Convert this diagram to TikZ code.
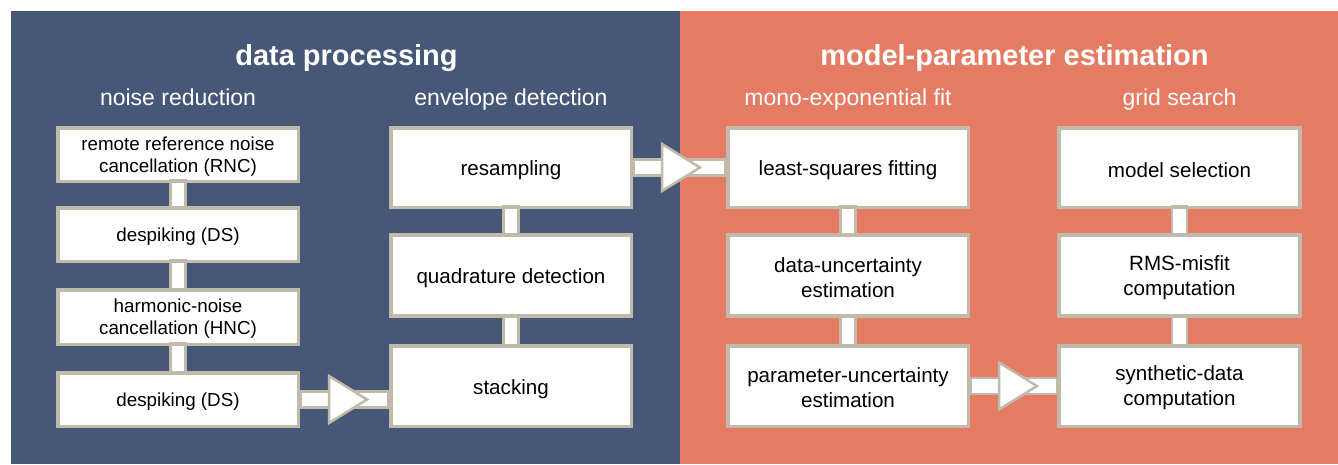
\documentclass[tikz,border=0pt]{standalone}
\usepackage{fontspec}
\setmainfont{Liberation Sans}
\usetikzlibrary{calc}
\definecolor{bluebg}{RGB}{71,87,120}
\definecolor{orangebg}{RGB}{228,123,98}
\definecolor{edgegray}{RGB}{192,186,170}
\tikzset{
  box/.style={draw=edgegray, fill=white, line width=2.5pt, minimum width=239.5pt, inner sep=0pt},
  shortbox/.style={box, minimum height=52.5pt},
  tallbox/.style={box, minimum height=80pt},
  smalltext/.style={align=center, inner sep=0pt, font=\fontsize{18.8}{22}\selectfont},
  bigtext/.style={align=center, inner sep=0pt, font=\fontsize{20.6}{25}\selectfont},
  conn/.style={draw=edgegray, fill=white, line width=2.5pt, line join=miter},
  title/.style={text=white, anchor=base, font=\fontsize{29}{33}\selectfont\bfseries},
  subtitle/.style={text=white, anchor=base, font=\fontsize{23}{26}\selectfont}
}
\begin{document}
\begin{tikzpicture}[x=1pt,y=-1pt]
\useasboundingbox (0,0) rectangle (1338,464);
\fill[bluebg] (11,11) rectangle (680,464);
\fill[orangebg] (680,11) rectangle (1338,464);

\node[title] (t1) at (346.5,65) {data processing};
\node[title] (t2) at (1014.5,65) {model-parameter estimation};
\node[subtitle] (s1) at (178,105) {noise reduction};
\node[subtitle] (s2) at (511,105) {envelope detection};
\node[subtitle] (s3) at (848,105) {mono-exponential fit};
\node[subtitle] (s4) at (1179.5,105) {grid search};

% column 1
\node[shortbox] (rnc) at (178,154.5) {};
\node[shortbox] (ds1) at (178,234.5) {};
\node[shortbox, minimum height=53.5pt] (hnc) at (178,317) {};
\node[shortbox] (ds2) at (178,399.5) {};
% column 2
\node[tallbox, minimum height=78.5pt] (res) at (511,167.5) {};
\node[tallbox] (quad) at (511,275.5) {};
\node[tallbox, minimum height=79.5pt] (stack) at (511,386) {};
% column 3
\node[tallbox, minimum height=78.5pt] (lsq) at (848,167.5) {};
\node[tallbox] (dunc) at (848,275.5) {};
\node[tallbox, minimum height=79.5pt] (punc) at (848,386) {};
% column 4
\node[tallbox, minimum height=78.5pt] (msel) at (1179.5,167.5) {};
\node[tallbox] (rms) at (1179.5,275.5) {};
\node[tallbox, minimum height=79.5pt] (syn) at (1179.5,386) {};

% vertical connectors
\foreach \a/\b in {rnc/ds1, ds1/hnc, hnc/ds2, res/quad, quad/stack, lsq/dunc, dunc/punc, msel/rms, rms/syn}{
  \draw[conn] ($(\a.south)+(-7.5,-1.5)$) rectangle ($(\b.north)+(7.5,1.5)$);
}
% horizontal bars
\draw[conn] ($(ds2.east)+(1.5,-8)$) rectangle ($(stack.west |- ds2.east)+(-1.5,8)$);
\draw[conn] ($(res.east)+(1.5,-8)$) rectangle ($(lsq.west)+(-1.5,8)$);
\draw[conn] ($(punc.east)+(1.5,-8)$) rectangle ($(syn.west)+(-1.5,8)$);

% redraw box borders over connector ends
\foreach \n in {rnc,ds1,hnc,ds2,res,quad,stack,lsq,dunc,punc,msel,rms,syn}{
  \draw[draw=edgegray, line width=2.5pt] (\n.north west) rectangle (\n.south east);
}

% arrow heads
\foreach \a in {ds2,res,punc}{
  \draw[conn] ($(\a.east)+(30,-23.5)$) -- ($(\a.east)+(68,0)$) -- ($(\a.east)+(30,23.5)$) -- cycle;
}

% box texts
\node[smalltext] (rncT) at ($(rnc.center)+(0,2)$) {remote reference noise\\cancellation (RNC)};
\node[smalltext] (ds1T) at ($(ds1.center)+(0,2)$) {despiking (DS)};
\node[smalltext] (hncT) at ($(hnc.center)+(0,2)$) {harmonic-noise\\cancellation (HNC)};
\node[smalltext] (ds2T) at ($(ds2.center)+(0,2)$) {despiking (DS)};
\node[bigtext] (resT) at ($(res.center)+(0,3)$) {resampling};
\node[bigtext] (quadT) at ($(quad.center)+(0,3)$) {quadrature detection};
\node[bigtext] (stackT) at ($(stack.center)+(0,3)$) {stacking};
\node[bigtext] (lsqT) at ($(lsq.center)+(0,3)$) {least-squares fitting};
\node[bigtext] (duncT) at ($(dunc.center)+(0,2)$) {data-uncertainty\\estimation};
\node[bigtext] (puncT) at ($(punc.center)+(0,2)$) {parameter-uncertainty\\estimation};
\node[bigtext] (mselT) at ($(msel.center)+(0,3)$) {model selection};
\node[bigtext] (rmsT) at ($(rms.center)+(0,2)$) {RMS-misfit\\computation};
\node[bigtext] (synT) at ($(syn.center)+(0,2)$) {synthetic-data\\computation};
\end{tikzpicture}
\end{document}
